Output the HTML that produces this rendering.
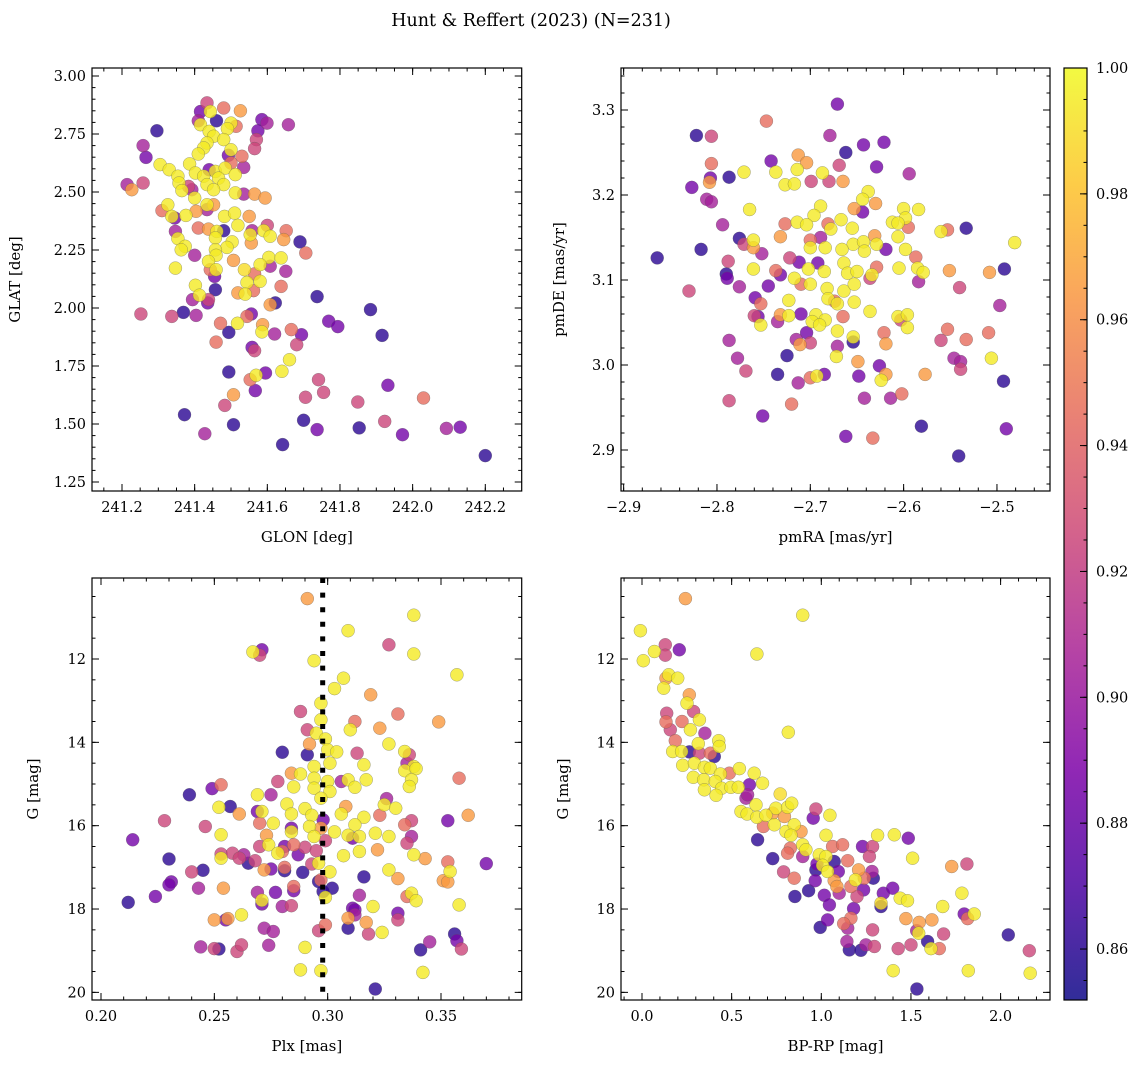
<!DOCTYPE html>
<html><head><meta charset="utf-8"><style>
html,body{margin:0;padding:0;background:#fff;}
svg{display:block;font-family:"DejaVu Serif","Liberation Serif",serif;}
</style></head><body>
<svg id="fig" width="1148" height="1067" viewBox="0 0 1148 1067" xmlns="http://www.w3.org/2000/svg">
<defs>
<linearGradient id="plasma" x1="0" y1="1" x2="0" y2="0">
<stop offset="0" stop-color="#0d0887"/><stop offset="0.125" stop-color="#4c02a1"/><stop offset="0.25" stop-color="#7e03a8"/><stop offset="0.375" stop-color="#a92395"/><stop offset="0.5" stop-color="#cc4778"/><stop offset="0.625" stop-color="#e56b5d"/><stop offset="0.75" stop-color="#f89441"/><stop offset="0.875" stop-color="#fdc328"/><stop offset="1" stop-color="#f0f921"/>
</linearGradient>
</defs>
<text x="531" y="26" font-size="17.5" text-anchor="middle">Hunt &amp; Reffert (2023) (N=231)</text>
</svg>
<script>
// [x, y, membership probability]
const glonGlatProb = [[241.434,2.884,.925],[241.48,2.862,.945],[241.526,2.85,.965],[241.416,2.847,.885],[241.443,2.847,.995],[241.41,2.807,.905],[241.46,2.807,.86],[241.416,2.79,.995],[241.5,2.797,.995],[241.514,2.783,.945],[241.585,2.812,.885],[241.599,2.797,.905],[241.658,2.79,.905],[241.296,2.764,.86],[241.44,2.761,.995],[241.49,2.773,.995],[241.574,2.764,.885],[241.452,2.74,.995],[241.48,2.726,.995],[241.57,2.726,.925],[241.258,2.7,.905],[241.434,2.711,.995],[241.565,2.687,.925],[241.425,2.69,.995],[241.5,2.682,.995],[241.266,2.649,.885],[241.41,2.664,.995],[241.493,2.658,.885],[241.53,2.654,.945],[241.305,2.618,.995],[241.386,2.621,.995],[241.5,2.625,.945],[241.535,2.606,.905],[241.33,2.596,.995],[241.44,2.596,.885],[241.402,2.582,.995],[241.457,2.589,.995],[241.484,2.603,.995],[241.512,2.575,.995],[241.354,2.568,.995],[241.425,2.568,.995],[241.466,2.56,.995],[241.214,2.532,.905],[241.258,2.539,.925],[241.227,2.51,.965],[241.357,2.539,.995],[241.383,2.524,.925],[241.434,2.532,.995],[241.48,2.532,.995],[241.365,2.506,.995],[241.392,2.51,.905],[241.452,2.51,.995],[241.512,2.496,.995],[241.535,2.491,.905],[241.565,2.491,.965],[241.594,2.474,.965],[241.4,2.474,.995],[241.326,2.445,.995],[241.31,2.42,.945],[241.404,2.417,.965],[241.434,2.445,.995],[241.452,2.445,.965],[241.434,2.424,.905],[241.337,2.395,.995],[241.345,2.388,.885],[241.376,2.399,.995],[241.482,2.395,.995],[241.51,2.409,.995],[241.55,2.395,.965],[241.519,2.356,.995],[241.6,2.356,.925],[241.347,2.33,.905],[241.41,2.345,.945],[241.438,2.34,.965],[241.461,2.33,.995],[241.48,2.333,.86],[241.558,2.333,.905],[241.59,2.333,.995],[241.652,2.333,.945],[241.354,2.299,.995],[241.457,2.302,.995],[241.553,2.316,.995],[241.608,2.309,.995],[241.556,2.28,.965],[241.645,2.295,.965],[241.503,2.285,.995],[241.69,2.285,.86],[241.374,2.266,.995],[241.489,2.261,.995],[241.363,2.251,.995],[241.457,2.251,.995],[241.706,2.237,.945],[241.4,2.227,.905],[241.459,2.227,.995],[241.604,2.218,.995],[241.638,2.216,.995],[241.507,2.205,.965],[241.438,2.201,.995],[241.58,2.187,.995],[241.608,2.18,.905],[241.347,2.172,.995],[241.443,2.165,.945],[241.537,2.165,.99],[241.459,2.165,.995],[241.651,2.158,.905],[241.565,2.147,.945],[241.455,2.136,.885],[241.544,2.11,.995],[241.58,2.115,.995],[241.638,2.093,.945],[241.402,2.098,.995],[241.457,2.079,.86],[241.519,2.065,.965],[241.562,2.075,.945],[241.539,2.06,.995],[241.413,2.055,.995],[241.394,2.036,.905],[241.438,2.036,.925],[241.436,2.022,.885],[241.737,2.049,.86],[241.622,2.022,.86],[241.608,2.014,.965],[241.884,1.993,.86],[241.252,1.974,.925],[241.337,1.964,.925],[241.369,1.981,.86],[241.404,1.968,.905],[241.556,1.974,.885],[241.544,1.964,.945],[241.769,1.943,.885],[241.794,1.92,.885],[241.471,1.934,.945],[241.518,1.934,.995],[241.587,1.928,.965],[241.585,1.897,.995],[241.494,1.895,.86],[241.62,1.888,.905],[241.666,1.907,.945],[241.694,1.885,.885],[241.916,1.882,.86],[241.459,1.853,.945],[241.681,1.842,.925],[241.558,1.83,.885],[241.565,1.816,.925],[241.661,1.777,.995],[241.494,1.724,.86],[241.595,1.72,.885],[241.64,1.727,.995],[241.553,1.691,.945],[241.569,1.71,.995],[241.741,1.691,.925],[241.932,1.667,.885],[241.567,1.644,.885],[241.755,1.636,.925],[241.507,1.626,.965],[241.705,1.615,.925],[241.849,1.595,.925],[242.03,1.612,.945],[241.483,1.58,.925],[241.372,1.54,.86],[241.7,1.516,.86],[241.923,1.511,.925],[241.507,1.497,.86],[241.737,1.476,.885],[241.853,1.483,.86],[242.093,1.481,.905],[242.131,1.486,.885],[241.428,1.458,.905],[241.972,1.454,.885],[241.642,1.411,.86],[242.2,1.364,.86]];
const pmraPmdeProb = [[-2.671,3.307,.885],[-2.747,3.287,.945],[-2.822,3.27,.86],[-2.806,3.269,.925],[-2.679,3.27,.905],[-2.643,3.259,.885],[-2.621,3.262,.885],[-2.662,3.25,.86],[-2.713,3.247,.965],[-2.704,3.238,.965],[-2.742,3.24,.885],[-2.806,3.237,.945],[-2.669,3.235,.925],[-2.629,3.233,.885],[-2.771,3.227,.995],[-2.737,3.227,.995],[-2.714,3.23,.995],[-2.687,3.226,.995],[-2.787,3.221,.86],[-2.807,3.22,.885],[-2.594,3.225,.905],[-2.808,3.215,.965],[-2.699,3.216,.925],[-2.68,3.216,.925],[-2.665,3.216,.965],[-2.727,3.212,.995],[-2.717,3.213,.995],[-2.827,3.209,.885],[-2.638,3.204,.995],[-2.644,3.195,.995],[-2.811,3.195,.905],[-2.806,3.192,.905],[-2.63,3.19,.965],[-2.765,3.183,.995],[-2.689,3.187,.995],[-2.653,3.184,.965],[-2.644,3.18,.885],[-2.6,3.184,.995],[-2.584,3.183,.995],[-2.696,3.176,.995],[-2.598,3.173,.995],[-2.667,3.171,.995],[-2.794,3.165,.905],[-2.727,3.166,.945],[-2.714,3.168,.995],[-2.704,3.165,.995],[-2.681,3.166,.945],[-2.655,3.161,.995],[-2.612,3.168,.995],[-2.606,3.167,.995],[-2.595,3.162,.945],[-2.56,3.157,.995],[-2.553,3.159,.945],[-2.533,3.161,.86],[-2.776,3.149,.86],[-2.761,3.147,.995],[-2.732,3.151,.965],[-2.689,3.15,.905],[-2.678,3.16,.995],[-2.631,3.152,.965],[-2.606,3.151,.995],[-2.481,3.144,.995],[-2.771,3.142,.925],[-2.7,3.147,.945],[-2.654,3.142,.995],[-2.643,3.145,.995],[-2.629,3.142,.995],[-2.817,3.136,.86],[-2.761,3.138,.965],[-2.7,3.138,.995],[-2.684,3.138,.995],[-2.666,3.136,.995],[-2.619,3.136,.885],[-2.642,3.134,.995],[-2.598,3.136,.995],[-2.864,3.126,.86],[-2.752,3.131,.905],[-2.788,3.122,.925],[-2.722,3.126,.925],[-2.712,3.121,.885],[-2.692,3.12,.885],[-2.664,3.12,.995],[-2.587,3.127,.945],[-2.79,3.107,.86],[-2.789,3.102,.885],[-2.761,3.113,.995],[-2.737,3.111,.945],[-2.732,3.106,.885],[-2.702,3.113,.995],[-2.685,3.11,.995],[-2.66,3.108,.995],[-2.65,3.11,.995],[-2.629,3.115,.945],[-2.634,3.106,.995],[-2.605,3.114,.995],[-2.585,3.114,.995],[-2.579,3.109,.995],[-2.551,3.111,.965],[-2.508,3.109,.965],[-2.492,3.113,.86],[-2.717,3.102,.995],[-2.636,3.102,.925],[-2.584,3.098,.905],[-2.83,3.087,.925],[-2.776,3.092,.905],[-2.745,3.093,.885],[-2.71,3.095,.945],[-2.7,3.095,.995],[-2.682,3.09,.995],[-2.664,3.087,.995],[-2.653,3.095,.995],[-2.54,3.091,.925],[-2.759,3.079,.885],[-2.681,3.078,.995],[-2.674,3.075,.945],[-2.723,3.076,.995],[-2.671,3.072,.995],[-2.653,3.074,.995],[-2.753,3.072,.945],[-2.497,3.07,.905],[-2.636,3.063,.995],[-2.76,3.058,.925],[-2.756,3.057,.885],[-2.732,3.059,.965],[-2.735,3.051,.905],[-2.723,3.058,.995],[-2.71,3.06,.885],[-2.694,3.059,.995],[-2.684,3.053,.995],[-2.665,3.057,.945],[-2.606,3.057,.995],[-2.603,3.053,.925],[-2.596,3.059,.995],[-2.753,3.047,.995],[-2.698,3.051,.995],[-2.69,3.047,.995],[-2.671,3.04,.995],[-2.596,3.044,.995],[-2.704,3.038,.885],[-2.553,3.042,.945],[-2.621,3.038,.945],[-2.509,3.038,.945],[-2.787,3.029,.905],[-2.715,3.03,.905],[-2.7,3.026,.925],[-2.711,3.024,.965],[-2.671,3.022,.905],[-2.654,3.033,.995],[-2.654,3.027,.86],[-2.619,3.025,.965],[-2.56,3.029,.925],[-2.533,3.03,.945],[-2.725,3.011,.86],[-2.778,3.008,.905],[-2.672,3.01,.995],[-2.649,3.004,.965],[-2.546,3.008,.905],[-2.539,3.004,.905],[-2.506,3.008,.995],[-2.769,2.993,.925],[-2.626,2.999,.885],[-2.735,2.989,.86],[-2.7,2.985,.945],[-2.693,2.987,.995],[-2.685,2.989,.885],[-2.648,2.987,.885],[-2.619,2.989,.965],[-2.624,2.982,.995],[-2.577,2.989,.965],[-2.539,2.995,.925],[-2.493,2.981,.86],[-2.713,2.979,.905],[-2.787,2.958,.925],[-2.72,2.954,.945],[-2.642,2.961,.905],[-2.614,2.961,.905],[-2.602,2.966,.945],[-2.751,2.94,.885],[-2.581,2.928,.86],[-2.49,2.925,.885],[-2.662,2.916,.885],[-2.633,2.914,.945],[-2.541,2.893,.86]];
const plxGmagProb = [[.291,10.55,.965],[.338,10.95,.995],[.309,11.32,.995],[.327,11.66,.925],[.267,11.83,.995],[.271,11.78,.885],[.270,11.91,.925],[.338,11.88,.995],[.294,12.04,.995],[.357,12.38,.995],[.307,12.46,.995],[.303,12.71,.995],[.319,12.86,.965],[.297,13.06,.995],[.288,13.26,.925],[.331,13.32,.945],[.349,13.51,.965],[.297,13.46,.995],[.312,13.5,.945],[.291,13.7,.925],[.310,13.7,.995],[.323,13.66,.965],[.295,13.78,.995],[.299,13.92,.995],[.292,14.04,.965],[.327,14.04,.995],[.28,14.24,.86],[.291,14.3,.86],[.300,14.18,.995],[.304,14.23,.995],[.313,14.26,.925],[.334,14.22,.995],[.336,14.3,.925],[.294,14.58,.995],[.301,14.5,.995],[.316,14.54,.995],[.335,14.5,.905],[.338,14.58,.995],[.334,14.68,.995],[.339,14.63,.995],[.284,14.74,.965],[.288,14.76,.995],[.294,14.86,.995],[.300,14.94,.995],[.306,14.94,.905],[.309,14.9,.995],[.317,14.9,.995],[.337,14.9,.995],[.358,14.86,.945],[.253,15.02,.945],[.249,15.11,.885],[.278,14.94,.925],[.285,15.07,.995],[.294,15.1,.995],[.301,15.18,.995],[.312,15.08,.995],[.336,15.06,.995],[.239,15.26,.86],[.269,15.26,.995],[.275,15.26,.905],[.297,15.34,.995],[.257,15.54,.86],[.252,15.56,.995],[.282,15.48,.995],[.290,15.59,.995],[.308,15.54,.965],[.326,15.35,.905],[.325,15.5,.995],[.330,15.58,.995],[.261,15.72,.965],[.269,15.66,.885],[.271,15.66,.995],[.284,15.72,.995],[.293,15.75,.995],[.306,15.72,.995],[.323,15.75,.945],[.362,15.75,.965],[.228,15.88,.925],[.270,15.94,.945],[.276,15.94,.995],[.298,15.86,.885],[.316,15.8,.995],[.334,15.98,.945],[.337,15.88,.925],[.353,15.88,.885],[.246,16.02,.925],[.284,16.06,.885],[.292,16.02,.995],[.297,16.06,.965],[.312,15.98,.995],[.214,16.34,.885],[.253,16.22,.995],[.273,16.23,.965],[.284,16.15,.995],[.294,16.26,.995],[.299,16.36,.925],[.303,16.15,.995],[.309,16.23,.995],[.311,16.3,.885],[.314,16.26,.995],[.321,16.18,.995],[.327,16.26,.995],[.335,16.42,.925],[.337,16.26,.905],[.270,16.5,.925],[.274,16.46,.995],[.281,16.5,.885],[.285,16.46,.945],[.290,16.52,.925],[.280,16.62,.945],[.295,16.6,.925],[.322,16.58,.965],[.278,16.66,.995],[.253,16.68,.925],[.258,16.66,.925],[.263,16.7,.905],[.261,16.78,.925],[.287,16.7,.885],[.307,16.72,.995],[.314,16.62,.995],[.338,16.7,.995],[.253,16.78,.995],[.343,16.79,.965],[.230,16.8,.86],[.268,16.84,.925],[.265,16.9,.86],[.296,16.9,.995],[.293,16.92,.925],[.370,16.91,.885],[.353,16.87,.945],[.281,17.0,.945],[.272,17.06,.965],[.275,17.04,.885],[.281,17.08,.86],[.289,17.12,.86],[.301,17.11,.995],[.327,17.06,.995],[.354,17.1,.995],[.245,17.07,.86],[.240,17.11,.925],[.316,17.23,.86],[.331,17.27,.965],[.351,17.32,.965],[.353,17.35,.965],[.296,17.34,.86],[.297,17.3,.945],[.231,17.35,.885],[.230,17.42,.885],[.243,17.5,.905],[.254,17.5,.965],[.285,17.46,.945],[.302,17.5,.86],[.269,17.6,.905],[.277,17.6,.885],[.285,17.56,.885],[.298,17.58,.86],[.314,17.67,.905],[.335,17.7,.945],[.337,17.62,.995],[.339,17.8,.995],[.224,17.7,.885],[.299,17.72,.995],[.212,17.84,.86],[.271,17.79,.995],[.271,17.88,.885],[.280,17.94,.905],[.284,17.92,.925],[.320,17.94,.995],[.358,17.9,.995],[.311,17.98,.885],[.312,18.02,.885],[.312,18.14,.905],[.331,18.1,.885],[.331,18.26,.925],[.262,18.14,.995],[.250,18.26,.965],[.255,18.26,.885],[.256,18.23,.965],[.309,18.22,.965],[.317,18.32,.965],[.299,18.38,.945],[.272,18.46,.905],[.276,18.54,.905],[.296,18.52,.925],[.309,18.46,.86],[.318,18.6,.925],[.324,18.56,.995],[.356,18.6,.86],[.357,18.76,.885],[.345,18.79,.905],[.359,18.96,.925],[.341,18.98,.86],[.244,18.91,.905],[.250,18.95,.925],[.252,18.96,.86],[.260,19.02,.925],[.262,18.86,.925],[.274,18.87,.905],[.290,18.92,.995],[.288,19.46,.995],[.297,19.48,.995],[.342,19.52,.995],[.321,19.92,.86]];
const bprpGmagProb = [[.242,10.55,.965],[.896,10.95,.995],[-.009,11.32,.995],[.130,11.66,.925],[.208,11.78,.885],[.130,11.91,.925],[.069,11.82,.995],[.007,12.04,.995],[.641,11.88,.995],[.149,12.38,.995],[.134,12.46,.965],[.199,12.46,.995],[.121,12.7,.995],[.264,12.86,.965],[.251,13.06,.995],[.288,13.26,.925],[.138,13.3,.925],[.134,13.51,.945],[.223,13.5,.945],[.320,13.46,.995],[.158,13.7,.925],[.270,13.7,.995],[.351,13.78,.905],[.816,13.76,.995],[.186,13.96,.945],[.314,14.03,.995],[.428,13.96,.995],[.431,14.1,.995],[.171,14.22,.995],[.221,14.22,.995],[.264,14.23,.86],[.320,14.26,.925],[.381,14.26,.945],[.403,14.34,.86],[.227,14.55,.995],[.292,14.5,.995],[.348,14.6,.995],[.381,14.62,.995],[.487,14.74,.945],[.543,14.63,.995],[.626,14.74,.995],[.437,14.76,.995],[.286,14.84,.995],[.344,14.9,.995],[.409,14.94,.995],[.672,14.98,.995],[.599,15.02,.885],[.444,15.1,.995],[.496,15.08,.995],[.537,15.08,.995],[.348,15.14,.995],[.413,15.27,.995],[.771,15.24,.99],[.580,15.34,.905],[.589,15.26,.905],[.636,15.5,.995],[.747,15.58,.995],[.812,15.56,.995],[.835,15.46,.995],[.552,15.66,.995],[.586,15.72,.995],[.641,15.8,.995],[.691,15.75,.995],[.729,15.7,.965],[.794,15.78,.965],[.970,15.6,.925],[.955,15.82,.885],[1.048,15.75,.995],[.677,16.02,.945],[.738,15.98,.995],[.645,16.34,.86],[.803,16.14,.995],[.849,15.98,.995],[.887,16.14,.965],[.831,16.23,.995],[.896,16.46,.995],[.914,16.58,.995],[.827,16.54,.945],[.812,16.66,.945],[1.026,16.23,.995],[1.314,16.23,.995],[1.407,16.22,.995],[1.485,16.3,.885],[.729,16.79,.86],[.896,16.74,.905],[.989,16.7,.995],[1.026,16.74,.995],[1.063,16.5,.945],[1.119,16.46,.945],[1.230,16.5,.885],[1.286,16.5,.925],[1.268,16.74,.925],[1.509,16.78,.995],[.976,16.92,.885],[1.072,16.86,.86],[1.147,16.84,.945],[1.007,16.95,.995],[1.035,17.1,.995],[.790,17.11,.925],[.849,17.26,.945],[.970,17.06,.86],[1.095,17.1,.885],[1.208,17.06,.965],[1.283,17.1,.905],[1.727,16.98,.965],[1.812,16.92,.925],[.966,17.32,.885],[1.072,17.32,.965],[1.190,17.3,.995],[1.240,17.26,.945],[1.290,17.26,.86],[1.087,17.46,.965],[1.165,17.46,.945],[1.236,17.54,.885],[.853,17.7,.86],[.929,17.56,.86],[1.017,17.67,.885],[1.100,17.62,.905],[1.199,17.7,.925],[1.346,17.62,.885],[1.398,17.5,.885],[1.440,17.74,.995],[1.481,17.8,.995],[1.784,17.62,.995],[1.045,17.9,.885],[1.333,17.94,.86],[1.333,17.86,.99],[1.677,17.94,.995],[1.180,17.99,.885],[1.797,18.12,.885],[1.853,18.12,.995],[1.816,18.23,.945],[1.035,18.26,.885],[1.165,18.22,.945],[1.472,18.23,.965],[1.546,18.32,.965],[1.617,18.26,.965],[1.125,18.35,.945],[.994,18.44,.86],[1.147,18.46,.905],[1.286,18.5,.925],[1.532,18.52,.905],[1.543,18.58,.995],[1.682,18.6,.925],[2.043,18.62,.86],[1.143,18.78,.905],[1.249,18.86,.905],[1.296,18.9,.925],[1.156,18.98,.86],[1.221,18.99,.86],[1.429,18.95,.925],[1.500,18.86,.925],[1.593,18.78,.86],[1.612,18.95,.995],[1.658,18.95,.945],[2.160,19.0,.925],[1.401,19.48,.995],[1.820,19.48,.995],[2.165,19.54,.995],[1.533,19.92,.86]];
const plxCut = [0.2978];
const cbarTicks = [0.86,0.88,0.90,0.92,0.94,0.96,0.98,1.00];

const NS = "http://www.w3.org/2000/svg";
const svg = document.getElementById('fig');
const vmin = 0.8519, vmax = 1.0;
const stops = [[13,8,135],[76,2,161],[126,3,168],[169,35,149],[204,71,120],[229,107,93],[248,148,65],[253,195,40],[240,249,33]];
function plasma(p){
  let t = Math.max(0, Math.min(1, (p - vmin) / (vmax - vmin)));
  const f = t * 8, i = Math.min(7, Math.floor(f)), u = f - i;
  const a = stops[i], b = stops[i + 1];
  return 'rgb(' + a.map((v, k) => Math.round(v + (b[k] - v) * u)).join(',') + ')';
}
function mk(tag, attrs, parent){
  const e = document.createElementNS(NS, tag);
  for (const k in attrs) e.setAttribute(k, attrs[k]);
  (parent || svg).appendChild(e);
  return e;
}
const fmtMinus = s => s.replace('-', '\u2212');

// panel definitions: pixel box + linear scales
const panels = [
  {name:'glon-glat', data:glonGlatProb, L:92, R:521.7, T:68, B:491,
   sx:v=>122+(v-241.2)*363.3, sy:v=>192-(v-2.5)*232,
   xt:[241.2,241.4,241.6,241.8,242.0,242.2], xd:1, xm:0.05, xr:[241.1,242.35],
   yt:[1.25,1.5,1.75,2.0,2.25,2.5,2.75,3.0], yd:2, ym:0.05, yr:[1.2,3.05],
   xl:'GLON [deg]', yl:'GLAT [deg]', ylx:20},
  {name:'pmra-pmde', data:pmraPmdeProb, L:621, R:1050, T:68, B:491,
   sx:v=>810.3+(v+2.7)*933.3, sy:v=>280-(v-3.1)*850,
   xt:[-2.9,-2.8,-2.7,-2.6,-2.5], xd:1, xm:0.02, xr:[-2.92,-2.44],
   yt:[2.9,3.0,3.1,3.2,3.3], yd:1, ym:0.02, yr:[2.84,3.36],
   xl:'pmRA [mas/yr]', yl:'pmDE [mas/yr]', ylx:564},
  {name:'plx-g', data:plxGmagProb, L:92, R:521.7, T:578, B:1000,
   sx:v=>101+(v-0.2)*2266.7, sy:v=>659+(v-12)*41.67,
   xt:[0.20,0.25,0.30,0.35], xd:2, xm:0.01, xr:[0.18,0.39],
   yt:[12,14,16,18,20], yd:0, ym:0.5, yr:[10,20.3],
   xl:'Plx [mas]', yl:'G [mag]', ylx:38},
  {name:'color-magnitude', data:bprpGmagProb, L:621, R:1050, T:578, B:1000,
   sx:v=>642+v*179.3, sy:v=>659+(v-12)*41.67,
   xt:[0.0,0.5,1.0,1.5,2.0], xd:1, xm:0.1, xr:[-0.2,2.3],
   yt:[12,14,16,18,20], yd:0, ym:0.5, yr:[10,20.3],
   xl:'BP-RP [mag]', yl:'G [mag]', ylx:568}
];

panels.forEach((P, pi) => {
  const g = mk('g', {});
  
  
  const clipId = 'clip' + pi;
  const cp = mk('clipPath', {id: clipId}, g);
  mk('rect', {x:P.L, y:P.T, width:P.R-P.L, height:P.B-P.T}, cp);
  const pts = mk('g', {'clip-path':'url(#'+clipId+')'}, g);
  
  
  const sorted = P.data.slice().sort((a, b) => a[2] - b[2]);
  sorted.forEach(d => {
    const c = mk('circle', {cx:P.sx(d[0]).toFixed(1), cy:P.sy(d[1]).toFixed(1), r:6.5,
      fill:plasma(d[2]), 'fill-opacity':0.8, stroke:'rgba(90,90,90,0.55)', 'stroke-width':0.5}, pts);
    
    
  });
  if (P.name === 'plx-g') {
    const ln = mk('line', {x1:P.sx(plxCut[0]), x2:P.sx(plxCut[0]), y1:P.T, y2:P.B, stroke:'#000', 'stroke-width':5, 'stroke-dasharray':'5 9.6'}, pts);
    
    
  }
  // frame
  const fr = mk('rect', {x:P.L, y:P.T, width:P.R-P.L, height:P.B-P.T, fill:'none', stroke:'#000', 'stroke-width':1.2}, g);
  
  
  // ticks
  const tk = mk('g', {stroke:'#000', 'stroke-width':1}, g);
  
  
  for (let v = Math.ceil(P.xr[0]/P.xm)*P.xm; v <= P.xr[1]; v += P.xm) {
    const x = P.sx(v); if (x < P.L+0.5 || x > P.R-0.5) continue;
    mk('line', {x1:x, x2:x, y1:P.B, y2:P.B-3.5}, tk);
    mk('line', {x1:x, x2:x, y1:P.T, y2:P.T+3.5}, tk);
  }
  for (let v = Math.ceil(P.yr[0]/P.ym)*P.ym; v <= P.yr[1]; v += P.ym) {
    const y = P.sy(v); if (y < P.T+0.5 || y > P.B-0.5) continue;
    mk('line', {y1:y, y2:y, x1:P.L, x2:P.L+3.5}, tk);
    mk('line', {y1:y, y2:y, x1:P.R, x2:P.R-3.5}, tk);
  }
  P.xt.forEach(v => {
    const x = P.sx(v);
    mk('line', {x1:x, x2:x, y1:P.B, y2:P.B-7}, tk);
    mk('line', {x1:x, x2:x, y1:P.T, y2:P.T+7}, tk);
    const t = mk('text', {x:x, y:P.B+21, 'font-size':14.5, 'text-anchor':'middle'}, g);
    t.textContent = fmtMinus(v.toFixed(P.xd));
    
    
  });
  P.yt.forEach(v => {
    const y = P.sy(v);
    mk('line', {y1:y, y2:y, x1:P.L, x2:P.L+7}, tk);
    mk('line', {y1:y, y2:y, x1:P.R, x2:P.R-7}, tk);
    const t = mk('text', {x:P.L-6, y:y+5, 'font-size':14.5, 'text-anchor':'end'}, g);
    t.textContent = v.toFixed(P.yd);
    
    
  });
  const xl = mk('text', {x:(P.L+P.R)/2, y:P.B+51, 'font-size':15, 'text-anchor':'middle'}, g);
  xl.textContent = P.xl;
  
  
  const cy = (P.T+P.B)/2;
  const yl = mk('text', {x:P.ylx, y:cy, 'font-size':15, 'text-anchor':'middle', transform:'rotate(-90 '+P.ylx+' '+cy+')'}, g);
  yl.textContent = P.yl;
  
  
});

// colorbar
const cb = mk('g', {});


const cbL = 1064, cbR = 1087, cbT = 68, cbB = 1000;
const cby = p => cbB - (p - vmin) / (vmax - vmin) * (cbB - cbT);
mk('rect', {x:cbL, y:cbT, width:cbR-cbL, height:cbB-cbT, fill:'url(#plasma)', 'fill-opacity':0.85}, cb);
mk('rect', {x:cbL, y:cbT, width:cbR-cbL, height:cbB-cbT, fill:'none', stroke:'#000', 'stroke-width':1.2}, cb);
for (let v = 0.855; v < 1.0; v += 0.005) {
  const y = cby(v);
  mk('line', {x1:cbR, x2:cbR-3.5, y1:y, y2:y, stroke:'#000'}, cb);
}
cbarTicks.forEach(v => {
  const y = cby(v);
  mk('line', {x1:cbR, x2:cbR-7, y1:y, y2:y, stroke:'#000'}, cb);
  const t = mk('text', {x:cbR+9, y:y+5, 'font-size':14.5}, cb);
  t.textContent = v.toFixed(2);
  
  
});
</script>
</body></html>
